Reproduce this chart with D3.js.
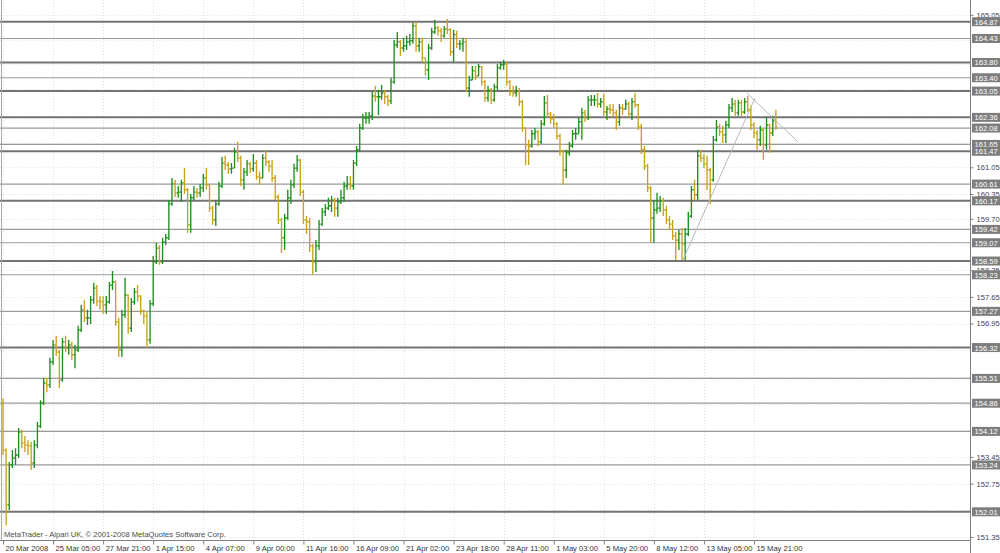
<!DOCTYPE html>
<html><head><meta charset="utf-8">
<script src="https://cdn.jsdelivr.net/npm/d3@7"></script>
<style>
html,body{margin:0;padding:0;background:#fff;}
svg{display:block;font-family:"Liberation Sans",Arial,sans-serif;}
</style></head><body>
<svg id="chart" width="1000" height="553"></svg>
<script>
// H4 bars, price series
const opens=[
154.87,153.63,152.19,153.24,153.42,153.50,154.10,153.82,153.76,153.74,
153.29,153.76,154.26,154.87,155.39,155.34,155.94,156.39,156.20,155.47,
156.47,156.31,156.39,156.13,156.26,156.78,157.31,157.10,157.10,157.57,
157.88,157.54,157.52,157.44,157.52,157.96,158.04,156.99,156.26,157.18,
157.70,156.83,157.52,157.78,157.67,157.28,157.15,156.52,157.47,158.57,
158.93,158.57,159.09,159.20,160.09,160.62,160.38,160.40,160.64,160.46,
159.54,160.25,160.40,160.38,160.51,160.77,160.59,159.98,159.67,160.09,
160.56,161.16,161.11,161.01,161.03,161.45,161.29,160.72,160.93,161.14,
161.01,161.16,160.80,160.77,161.29,161.19,161.08,160.77,160.27,159.67,
159.20,159.72,160.25,160.59,161.03,161.24,160.40,159.67,159.62,158.99,
158.57,158.99,159.56,159.88,159.98,160.04,160.19,159.98,160.14,160.25,
160.56,160.61,160.56,161.16,161.51,162.08,162.35,162.35,162.40,162.92,
162.90,162.90,163.00,162.90,162.79,163.29,164.26,164.34,164.18,164.24,
164.34,164.37,164.76,164.24,164.34,163.92,163.61,164.18,164.60,164.71,
164.63,164.50,164.68,164.66,164.08,164.53,164.29,164.29,164.34,163.13,
163.34,163.58,163.45,163.69,163.29,162.87,163.08,162.82,163.16,163.66,
163.74,163.76,163.29,163.03,163.00,163.05,162.77,162.08,161.64,161.61,
161.93,161.98,161.72,162.19,162.74,162.45,162.32,162.19,161.87,161.48,
160.98,161.43,161.61,161.93,161.93,162.24,162.48,162.35,162.82,162.82,
162.82,162.71,162.77,162.50,162.58,162.56,162.48,162.24,162.61,162.58,
162.71,162.45,162.77,162.69,162.11,161.51,161.08,160.51,159.72,159.93,
159.98,160.17,159.93,159.67,159.56,159.25,159.14,159.30,159.04,159.30,
159.77,160.46,160.33,161.35,161.29,161.14,160.98,160.72,161.77,162.11,
161.98,161.90,162.16,162.61,162.71,162.48,162.74,162.50,162.77,162.56,
162.16,161.95,161.77,162.03,161.64,162.16,161.95,162.27];
const highs=[
154.99,153.68,153.32,153.63,153.68,154.21,154.16,154.00,153.89,153.84,
153.89,154.37,154.94,155.52,155.52,156.05,156.52,156.63,156.26,156.57,
156.63,156.52,156.47,156.39,156.89,157.44,157.57,157.31,157.67,158.02,
157.96,157.67,157.67,157.67,158.04,158.33,158.08,157.10,157.31,158.15,
157.72,157.62,157.88,157.96,157.70,157.31,157.26,157.57,158.72,159.07,
159.01,159.20,159.30,160.19,160.77,160.72,160.56,160.72,161.03,160.51,
160.35,160.56,160.51,160.61,160.88,161.03,160.62,160.04,160.19,160.67,
161.32,161.35,161.19,161.16,161.56,161.72,161.35,161.03,161.24,161.19,
161.40,161.24,160.93,161.40,161.48,161.24,161.24,160.85,160.33,159.72,
159.83,160.46,160.72,161.14,161.37,161.27,160.46,159.77,159.72,159.04,
159.14,159.67,159.98,160.09,160.25,160.30,160.25,160.25,160.46,160.67,
160.82,160.82,161.24,161.61,162.19,162.45,162.50,162.50,163.03,163.19,
163.08,163.21,163.08,162.95,163.40,164.39,164.60,164.39,164.45,164.50,
164.55,164.84,164.87,164.45,164.45,163.92,164.29,164.71,164.92,164.76,
164.71,164.76,164.94,164.70,164.66,164.63,164.39,164.45,164.45,163.45,
163.71,163.71,163.76,163.71,163.34,163.19,163.13,163.24,163.76,163.82,
163.87,163.82,163.34,163.19,163.19,163.13,162.82,162.08,161.77,162.03,
162.08,162.03,162.29,162.92,162.95,162.50,162.45,162.24,161.93,161.51,
161.51,161.72,162.03,162.08,162.35,162.61,162.56,162.92,162.95,162.95,
163.00,162.87,162.98,162.66,162.71,162.71,162.56,162.71,162.71,162.82,
162.77,162.87,163.00,162.71,162.19,161.61,161.14,160.56,160.19,160.38,
160.30,160.25,160.04,159.77,159.67,159.35,159.41,159.46,159.46,159.88,
160.56,160.72,161.51,161.51,161.40,161.35,161.03,161.87,162.29,162.19,
162.14,162.27,162.71,162.87,162.82,162.82,162.82,162.87,162.92,162.66,
162.24,162.03,162.14,162.08,162.37,162.19,162.40,162.56];
const lows=[
153.50,151.66,152.06,153.16,153.24,153.42,153.68,153.58,153.50,153.11,
153.16,153.68,154.21,154.81,155.15,155.26,155.86,156.10,155.26,155.42,
156.20,156.13,155.99,155.78,156.20,156.73,156.99,156.91,156.94,157.47,
157.41,157.31,157.20,157.20,157.47,157.83,156.89,156.07,156.07,157.10,
156.68,156.73,157.44,157.52,157.18,156.94,156.31,156.42,157.41,158.51,
158.49,158.51,159.01,159.14,160.04,160.27,160.25,160.14,160.35,159.33,
159.33,160.19,160.25,160.27,160.40,160.46,159.88,159.54,159.51,160.04,
160.51,160.98,160.88,160.88,161.03,161.19,160.56,160.46,160.82,160.90,
160.93,160.72,160.59,160.77,161.08,160.93,160.67,160.19,159.56,158.80,
158.88,159.67,160.09,160.51,160.93,160.30,159.56,159.30,158.83,158.23,
158.30,158.88,159.51,159.77,159.93,159.88,159.75,159.75,160.09,160.14,
160.46,160.46,160.46,161.08,161.45,162.03,162.19,162.19,162.29,162.77,
162.42,162.82,162.71,162.66,162.71,163.24,164.18,163.97,164.08,164.13,
164.24,164.29,164.08,164.08,163.82,163.45,163.34,164.13,164.55,164.50,
164.34,164.45,164.55,163.97,163.82,164.18,164.13,164.08,163.03,162.90,
163.34,163.34,163.45,163.19,162.77,162.77,162.71,162.77,163.08,163.61,
163.61,163.19,162.92,162.90,162.90,162.66,161.98,161.11,161.11,161.56,
161.77,161.61,161.66,162.14,162.35,162.19,162.08,161.77,161.35,160.59,
160.77,161.35,161.56,161.77,161.93,161.77,162.24,162.29,162.66,162.66,
162.61,162.61,162.40,162.29,162.45,162.37,162.03,162.14,162.43,162.56,
162.35,162.29,162.61,162.03,161.40,160.98,160.40,159.07,159.07,159.83,
159.88,159.77,159.56,159.41,159.14,158.62,158.88,158.62,158.62,159.25,
159.72,160.19,160.19,161.19,161.03,160.46,160.09,160.67,161.72,161.87,
161.69,161.69,162.08,162.50,162.40,162.40,162.40,162.45,162.50,162.03,
161.82,161.51,161.61,161.24,161.51,161.43,161.87,162.03];
const closes=[
153.63,152.19,153.24,153.42,153.50,154.10,153.82,153.76,153.74,153.29,
153.76,154.26,154.87,155.39,155.34,155.94,156.39,156.20,155.47,156.47,
156.31,156.39,156.13,156.26,156.78,157.31,157.10,157.10,157.57,157.88,
157.54,157.52,157.44,157.52,157.96,158.04,156.99,156.26,157.18,157.70,
156.83,157.52,157.78,157.67,157.28,157.15,156.52,157.47,158.57,158.93,
158.57,159.09,159.20,160.09,160.62,160.38,160.40,160.64,160.46,159.54,
160.25,160.40,160.38,160.51,160.77,160.59,159.98,159.67,160.09,160.56,
161.16,161.11,161.01,161.03,161.45,161.29,160.72,160.93,161.14,161.01,
161.16,160.80,160.77,161.29,161.19,161.08,160.77,160.27,159.67,159.20,
159.72,160.25,160.59,161.03,161.24,160.40,159.67,159.62,158.99,158.57,
158.99,159.56,159.88,159.98,160.04,160.19,159.98,160.14,160.25,160.56,
160.61,160.56,161.16,161.51,162.08,162.35,162.35,162.40,162.92,162.90,
162.90,163.00,162.90,162.79,163.29,164.26,164.34,164.18,164.24,164.34,
164.37,164.76,164.24,164.34,163.92,163.61,164.18,164.60,164.71,164.63,
164.50,164.68,164.66,164.08,164.53,164.29,164.29,164.34,163.13,163.34,
163.58,163.45,163.69,163.29,162.87,163.08,162.82,163.16,163.66,163.74,
163.76,163.29,163.03,163.00,163.05,162.77,162.08,161.64,161.61,161.93,
161.98,161.72,162.19,162.74,162.45,162.32,162.19,161.87,161.48,160.98,
161.43,161.61,161.93,161.93,162.24,162.48,162.35,162.82,162.82,162.82,
162.71,162.77,162.50,162.58,162.56,162.48,162.24,162.61,162.58,162.71,
162.45,162.77,162.69,162.11,161.51,161.08,160.51,159.72,159.93,159.98,
160.17,159.93,159.67,159.56,159.25,159.14,159.30,159.04,159.30,159.77,
160.46,160.33,161.35,161.29,161.14,160.98,160.72,161.77,162.11,161.98,
161.90,162.16,162.61,162.71,162.48,162.74,162.50,162.77,162.56,162.16,
161.95,161.77,162.03,161.64,162.16,161.95,162.27,162.11];

const timeLabels=["20 Mar 2008","25 Mar 05:00","27 Mar 21:00","1 Apr 15:00","4 Apr 07:00",
"9 Apr 00:00","11 Apr 16:00","16 Apr 09:00","21 Apr 02:00","23 Apr 18:00","28 Apr 11:00",
"1 May 03:00","5 May 20:00","8 May 12:00","13 May 05:00","15 May 21:00"];
const barsPerLabel=16;
// grid levels of the price scale; the labelled ones are those not hidden by level tags
const gridPrices=[165.05,164.40,163.75,163.10,162.40,161.70,161.05,160.35,159.70,159.00,
158.35,157.65,156.95,156.25,155.55,154.85,154.15,153.45,152.75,152.05,151.35];
const priceTicks=[165.05,161.05,160.35,159.70,158.35,157.65,156.95,153.45,152.75,151.35];
const levels=[164.87,164.43,163.80,163.40,163.05,162.36,162.08,161.65,161.47,160.61,160.17,
159.42,159.07,158.59,158.23,157.27,156.32,155.51,154.86,154.12,153.24,152.01];
const heavyLevels=[164.87,163.80,163.05,162.36,161.47,160.17,158.59,156.32,152.01];
const trendLines=[[217.3,158.62,240.3,162.87],[237.7,163.00,254.0,161.72]];
const watermark="MetaTrader - Alpari UK, \u00a9 2001-2008 MetaQuotes Software Corp.";

const svg=d3.select("#chart");
const plotR=970, plotB=540;
const x=d3.scaleLinear().domain([0,(timeLabels.length-1)*barsPerLabel]).range([3,754]);
const y=d3.scaleLinear().domain([151.27,165.44]).range([plotB,0]);

svg.append("defs").append("clipPath").attr("id","plot")
  .append("rect").attr("x",0).attr("y",0).attr("width",plotR).attr("height",plotB);

// grid (dotted, faint)
const grid=svg.append("g").attr("stroke","#e2e2e2").attr("stroke-dasharray","1,2").attr("stroke-width",1);
grid.selectAll("line.h").data(gridPrices).join("line").attr("class","h")
  .attr("x1",0).attr("x2",plotR).attr("y1",d=>Math.round(y(d))+0.5).attr("y2",d=>Math.round(y(d))+0.5);
grid.selectAll("line.v").data(timeLabels).join("line").attr("class","v")
  .attr("x1",(d,i)=>Math.round(x(i*barsPerLabel))+0.5).attr("x2",(d,i)=>Math.round(x(i*barsPerLabel))+0.5)
  .attr("y1",0).attr("y2",plotB);

// horizontal level lines
const heavy=new Set(heavyLevels);
svg.append("g").selectAll("line").data(levels).join("line")
  .attr("x1",0).attr("x2",plotR)
  .attr("y1",d=>y(d)).attr("y2",d=>y(d))
  .attr("stroke",d=>heavy.has(d)?"#737373":"#9a9a9a")
  .attr("stroke-width",d=>heavy.has(d)?2:1.2);

// bars
const bars=svg.append("g").attr("clip-path","url(#plot)").attr("fill","none").attr("stroke-width",1.35);
bars.selectAll("path").data(closes).join("path")
  .attr("stroke",(c,i)=>c>=opens[i]?"#1f8f1f":"#c8a21a")
  .attr("d",(c,i)=>{const cx=x(i);
    return `M${cx},${y(highs[i])}V${y(lows[i])}M${cx-1.5},${y(opens[i])}H${cx}M${cx},${y(c)}H${cx+1.5}`;});

// trend lines
svg.append("g").attr("clip-path","url(#plot)").selectAll("line").data(trendLines).join("line")
  .attr("x1",d=>x(d[0])).attr("y1",d=>y(d[1])).attr("x2",d=>x(d[2])).attr("y2",d=>y(d[3]))
  .attr("stroke","#b8b8b8").attr("stroke-width",1);

// frame
svg.append("line").attr("x1",1.5).attr("x2",1.5).attr("y1",0).attr("y2",plotB).attr("stroke","#a8a8a8");

// right price axis
const yAxis=d3.axisRight(y).tickValues(priceTicks).tickSize(3).tickPadding(3).tickFormat(d3.format(".2f"));
const gy=svg.append("g").attr("transform",`translate(${plotR+0.5},0)`).call(yAxis);
gy.select(".domain").attr("stroke","#808080").attr("d",`M0,0V553`);
gy.selectAll(".tick line").attr("stroke","#808080");
gy.selectAll(".tick text").attr("fill","#3c3c5a").attr("font-size","7.6px")
  .attr("font-family","Liberation Sans, Arial, sans-serif");

// level labels
const lab=svg.append("g").selectAll("g").data(levels).join("g")
  .attr("transform",d=>`translate(${plotR+2},${y(d)})`);
lab.append("rect").attr("x",0).attr("y",-4.5).attr("width",28).attr("height",9).attr("fill","#7d7d7d");
lab.append("text").attr("x",2.5).attr("y",3).attr("fill","#ffffff").attr("font-size","7.6px")
  .text(d=>d.toFixed(2));

// bottom time axis
const xAxis=d3.axisBottom(x).tickValues(timeLabels.map((d,i)=>i*barsPerLabel))
  .tickSize(4).tickFormat((d,i)=>timeLabels[i]);
const gx=svg.append("g").attr("transform",`translate(0,${plotB+0.5})`).call(xAxis);
gx.select(".domain").attr("stroke","#808080").attr("d",`M0,0H${plotR}`);
gx.selectAll(".tick line").attr("stroke","#808080");
gx.selectAll(".tick text").attr("fill","#333").attr("font-size","7.6px")
  .attr("font-family","Liberation Sans, Arial, sans-serif")
  .attr("text-anchor","start").attr("x",2).attr("y",5).attr("dy","0.71em");

// watermark
svg.append("text").attr("x",4).attr("y",536.5).attr("fill","#4a4a4a").attr("font-size","7.6px").text(watermark);
</script></body></html>
